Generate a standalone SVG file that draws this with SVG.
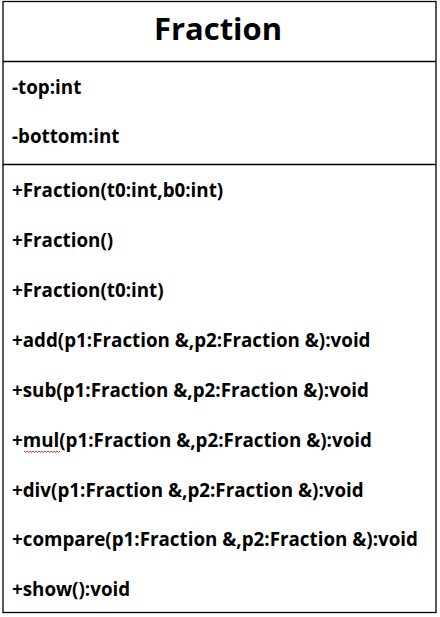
<svg xmlns="http://www.w3.org/2000/svg" width="440" height="617" viewBox="0 0 440 617">
<style>
.t{font-family:"Open Sans","Liberation Sans",sans-serif;font-weight:bold;font-size:18.8px;fill:#000}
.h{font-family:"Open Sans","Liberation Sans",sans-serif;font-weight:bold;font-size:31px;fill:#000}
.ln{stroke:#000;stroke-width:1.3;fill:none}
</style>
<rect width="440" height="617" fill="#fff"/>
<g id="class-Fraction">
<rect class="ln" x="3" y="1.5" width="433" height="611"/>
<line class="ln" x1="3" y1="61.5" x2="436" y2="61.5"/>
<line class="ln" x1="3" y1="164.5" x2="436" y2="164.5"/>
<text class="h" x="218" y="40" text-anchor="middle">Fraction</text>
<text class="t" x="12" y="94">-top:int</text>
<text class="t" x="12" y="143">-bottom:int</text>
<text class="t" x="12" y="197">+Fraction(t0:int,b0:int)</text>
<text class="t" x="12" y="247">+Fraction()</text>
<text class="t" x="12" y="297">+Fraction(t0:int)</text>
<text class="t" x="12" y="347">+add(p1:Fraction &amp;,p2:Fraction &amp;):void</text>
<text class="t" x="12" y="397">+sub(p1:Fraction &amp;,p2:Fraction &amp;):void</text>
<text class="t" x="12" y="447">+mul(p1:Fraction &amp;,p2:Fraction &amp;):void</text>
<text class="t" x="12" y="497">+div(p1:Fraction &amp;,p2:Fraction &amp;):void</text>
<text class="t" x="12" y="546">+compare(p1:Fraction &amp;,p2:Fraction &amp;):void</text>
<text class="t" x="12" y="596">+show():void</text>
<path d="M24 451 l1.5 1.5 l1.5 -1.5 l1.5 1.5 l1.5 -1.5 l1.5 1.5 l1.5 -1.5 l1.5 1.5 l1.5 -1.5 l1.5 1.5 l1.5 -1.5 l1.5 1.5 l1.5 -1.5 l1.5 1.5 l1.5 -1.5 l1.5 1.5 l1.5 -1.5 l1.5 1.5 l1.5 -1.5 l1.5 1.5 l1.5 -1.5 l1.5 1.5 l1.5 -1.5 l1.5 1.5 l1.5 -1.5" stroke="#d00" stroke-width="0.8" fill="none"/>
</g>
</svg>
